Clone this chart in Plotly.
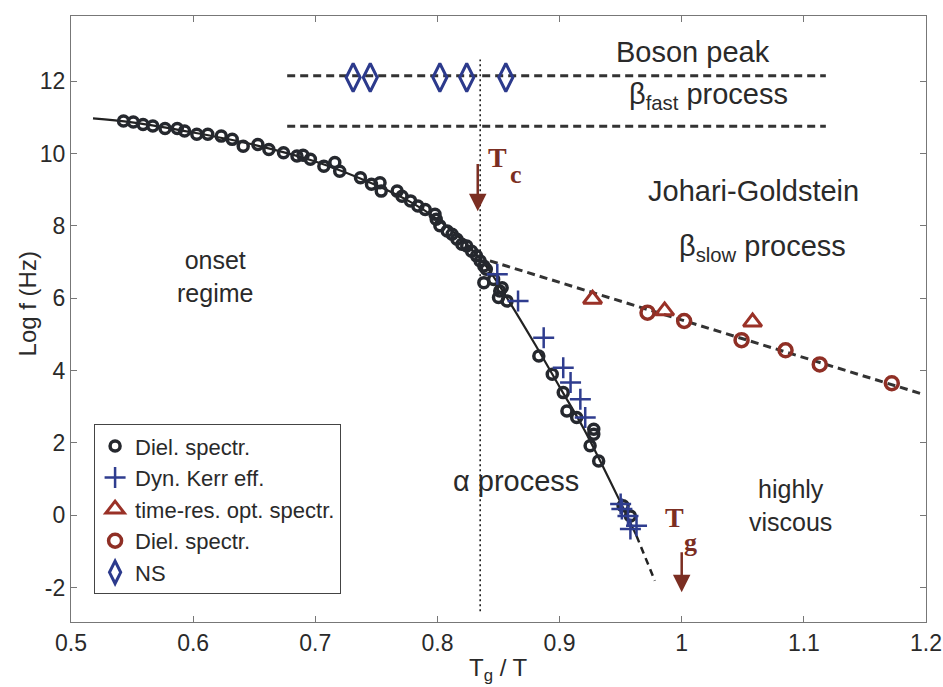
import plotly.graph_objects as go

# ---------------- data ----------------
diel_alpha_x = [0.543, 0.551, 0.559, 0.567, 0.577, 0.587, 0.593, 0.603, 0.612, 0.623,
                0.632, 0.641, 0.653, 0.662, 0.674, 0.685, 0.690, 0.696, 0.707, 0.716,
                0.720, 0.737, 0.746, 0.753, 0.754, 0.767, 0.771, 0.778, 0.784, 0.790,
                0.798, 0.799, 0.802, 0.808, 0.812, 0.816, 0.820, 0.824, 0.828, 0.832,
                0.835, 0.838, 0.840, 0.838, 0.846, 0.851, 0.853, 0.850, 0.857, 0.883,
                0.894, 0.903, 0.906, 0.914, 0.928, 0.928, 0.925, 0.932, 0.952, 0.958]
diel_alpha_y = [10.90, 10.87, 10.80, 10.76, 10.69, 10.69, 10.62, 10.53, 10.53, 10.48,
                10.39, 10.20, 10.25, 10.11, 10.02, 9.93, 9.95, 9.84, 9.65, 9.75,
                9.51, 9.33, 9.15, 9.19, 8.96, 8.96, 8.82, 8.69, 8.55, 8.45,
                8.32, 8.18, 8.00, 7.86, 7.77, 7.63, 7.49, 7.44, 7.30, 7.17,
                7.03, 6.89, 6.80, 6.43, 6.52, 6.20, 6.29, 6.02, 5.92, 4.40,
                3.90, 3.39, 2.88, 2.70, 2.38, 2.24, 1.92, 1.50, 0.26, -0.02]

kerr_x = [0.849, 0.866, 0.887, 0.903, 0.909, 0.917, 0.921, 0.950, 0.951, 0.956, 0.963, 0.958]
kerr_y = [6.66, 5.92, 4.91, 4.08, 3.67, 3.21, 2.70, 0.31, 0.17, -0.02, -0.29, -0.38]

opt_x = [0.927, 0.986, 1.058]
opt_y = [5.97, 5.65, 5.34]

diel_jg_x = [0.972, 1.002, 1.049, 1.085, 1.113, 1.172]
diel_jg_y = [5.60, 5.37, 4.84, 4.56, 4.17, 3.65]

ns_x = [0.731, 0.745, 0.802, 0.824, 0.856]
ns_y = [12.1, 12.1, 12.1, 12.1, 12.1]

alpha_fit_x = [0.518, 0.55, 0.60, 0.65, 0.70, 0.75, 0.78, 0.80, 0.82, 0.84,
               0.858, 0.88, 0.90, 0.92, 0.935, 0.95, 0.963]
alpha_fit_y = [10.97, 10.86, 10.58, 10.24, 9.78, 9.12, 8.62, 8.18, 7.62, 6.88,
               5.95, 4.72, 3.55, 2.38, 1.38, 0.35, -0.57]
alpha_ext_x = [0.963, 0.978]
alpha_ext_y = [-0.57, -1.81]

jg_fit_x = [0.843, 1.197]
jg_fit_y = [7.03, 3.35]

boson_x = [0.677, 1.118]
boson_y = [12.15, 12.15]
bfast_x = [0.677, 1.118]
bfast_y = [10.75, 10.75]

tc_line_x = [0.835, 0.835]
tc_line_y = [-2.65, 12.6]

x_ticks = [0.5, 0.6, 0.7, 0.8, 0.9, 1.0, 1.1, 1.2]
x_ticklabels = ["0.5", "0.6", "0.7", "0.8", "0.9", "1", "1.1", "1.2"]
y_ticks = [-2, 0, 2, 4, 6, 8, 10, 12]
y_ticklabels = ["-2", "0", "2", "4", "6", "8", "10", "12"]

legend_names = ["Diel. spectr.", "Dyn. Kerr eff.", "time-res. opt. spectr.", "Diel. spectr.", "NS"]

# ---------------- styles ----------------
BLACK = "#25282e"
BLUE = "#2f3d8f"
RED = "#9a3127"
BROWN = "#7b2e22"
TXT = "#2a2a2a"
FONT = "Liberation Sans, Arial, sans-serif"
SERIF = "Liberation Serif, Times New Roman, serif"

fig = go.Figure()

# lines (no legend)
fig.add_trace(go.Scatter(x=tc_line_x, y=tc_line_y, mode="lines", showlegend=False,
                         line=dict(color="#111111", width=1.5, dash="2px,3px")))
fig.add_trace(go.Scatter(x=boson_x, y=boson_y, mode="lines", showlegend=False,
                         line=dict(color="#333333", width=3, dash="8px,5px")))
fig.add_trace(go.Scatter(x=bfast_x, y=bfast_y, mode="lines", showlegend=False,
                         line=dict(color="#333333", width=3, dash="8px,5px")))
fig.add_trace(go.Scatter(x=jg_fit_x, y=jg_fit_y, mode="lines", showlegend=False,
                         line=dict(color="#333333", width=3, dash="8px,5px")))
fig.add_trace(go.Scatter(x=alpha_fit_x, y=alpha_fit_y, mode="lines", showlegend=False,
                         line=dict(color="#222222", width=2.2, shape="spline")))
fig.add_trace(go.Scatter(x=alpha_ext_x, y=alpha_ext_y, mode="lines", showlegend=False,
                         line=dict(color="#222222", width=2.5, dash="7px,5px")))

# data series
fig.add_trace(go.Scatter(x=diel_alpha_x, y=diel_alpha_y, mode="markers", name=legend_names[0],
                         marker=dict(symbol="circle-open", size=10, color=BLACK,
                                     line=dict(width=3.5, color=BLACK))))
fig.add_trace(go.Scatter(x=kerr_x, y=kerr_y, mode="markers", name=legend_names[1],
                         marker=dict(symbol="cross-thin-open", size=15, color=BLUE,
                                     line=dict(width=2.5, color=BLUE))))
fig.add_trace(go.Scatter(x=opt_x, y=opt_y, mode="markers", name=legend_names[2],
                         marker=dict(symbol="triangle-up-open", size=16, color=RED,
                                     line=dict(width=3, color=RED))))
fig.add_trace(go.Scatter(x=diel_jg_x, y=diel_jg_y, mode="markers", name=legend_names[3],
                         marker=dict(symbol="circle-open", size=13, color="#8f2f25",
                                     line=dict(width=3.5, color="#8f2f25"))))
fig.add_trace(go.Scatter(x=ns_x, y=ns_y, mode="markers", name=legend_names[4],
                         marker=dict(symbol="diamond-tall-open", size=20, color="#2c3a8c",
                                     line=dict(width=3, color="#2c3a8c"))))

ann = []
def txt(x, y, s, size=29, color=TXT, font=FONT, **kw):
    d = dict(x=x, y=y, xref="x", yref="y", text=s, showarrow=False,
             xanchor="center", yanchor="middle",
             font=dict(family=font, size=size, color=color))
    d.update(kw)
    ann.append(d)

txt(1.009, 12.8, "Boson peak")
txt(1.022, 11.6, "β<sub>fast</sub> process")
txt(1.059, 8.95, "Johari-Goldstein")
txt(1.066, 7.4, "β<sub>slow</sub> process")
txt(0.618, 6.6, "onset<br>regime", size=25)
txt(0.864, 0.94, "α process")
txt(1.089, 0.28, "highly<br>viscous", size=25)

# Tc / Tg labels
txt(0.849, 9.9, "<b>T</b>", size=28, color=BROWN, font=SERIF)
txt(0.864, 9.42, "<b>c</b>", size=26, color=BROWN, font=SERIF)
txt(0.994, -0.05, "<b>T</b>", size=28, color=BROWN, font=SERIF)
txt(1.007, -0.74, "<b>g</b>", size=26, color=BROWN, font=SERIF)

# arrows
for xx, y_tail, y_head in [(0.833, 9.75, 8.4), (1.0, -0.98, -2.13)]:
    ann.append(dict(x=xx, y=y_head, ax=xx, ay=y_tail, xref="x", yref="y", axref="x", ayref="y",
                    text="", showarrow=True, arrowhead=2, arrowsize=1.4, arrowwidth=2.5,
                    arrowcolor=BROWN, standoff=0, startstandoff=0))

# axis titles as annotations
ann.append(dict(x=-0.0505, y=5.85, xref="paper", yref="y", text="Log f (Hz)", showarrow=False,
                xanchor="center", yanchor="middle",
                textangle=-90, font=dict(family=FONT, size=24, color=TXT)))
ann.append(dict(x=0.5, y=-0.078, xref="paper", yref="paper", text="T<sub>g</sub> / T", showarrow=False,
                xanchor="center", yanchor="middle",
                font=dict(family=FONT, size=24, color=TXT)))

fig.update_layout(
    width=943, height=687, autosize=False,
    margin=dict(l=71, r=17, t=16, b=65, autoexpand=False),
    paper_bgcolor="white", plot_bgcolor="white",
    font=dict(family=FONT, size=22, color=TXT),
    annotations=ann,
    showlegend=True,
    legend=dict(x=0.027, y=0.046, xanchor="left", yanchor="bottom",
                bgcolor="white", bordercolor="#444444", borderwidth=1,
                font=dict(family=FONT, size=22, color=TXT),
                itemsizing="trace", tracegroupgap=0,
                entrywidthmode="pixels", entrywidth=240),
    xaxis=dict(range=[0.5, 1.2], tickvals=x_ticks, ticktext=x_ticklabels, automargin=False,
               showgrid=False, zeroline=False, showline=True, linecolor="#777777", linewidth=1.2,
               mirror="ticks", ticks="inside", ticklen=6, tickcolor="#777777",
               tickfont=dict(family=FONT, size=23, color=TXT)),
    yaxis=dict(range=[-2.95, 13.8], tickvals=y_ticks, ticktext=y_ticklabels, automargin=False,
               showgrid=False, zeroline=False, showline=True, linecolor="#777777", linewidth=1.2,
               mirror="ticks", ticks="inside", ticklen=6, tickcolor="#777777",
               tickfont=dict(family=FONT, size=23, color=TXT)),
)

fig.write_html("out.html")
